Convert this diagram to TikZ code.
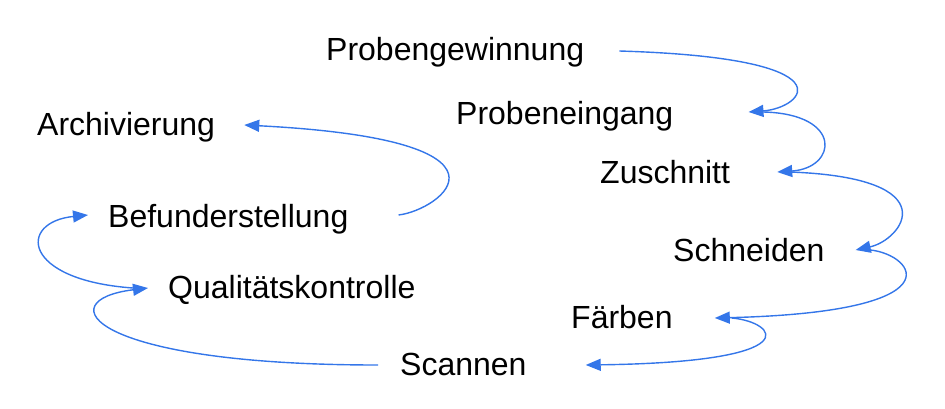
\documentclass[tikz,border=0pt]{standalone}
\usepackage{fontspec}
\setmainfont{Liberation Sans}
\usetikzlibrary{arrows.meta}
\definecolor{arrowblue}{RGB}{52,118,233}
\tikzset{
  lbl/.style={inner sep=0pt, font=\fontsize{32}{38}\selectfont},
  flow/.style={draw=arrowblue, line width=1.4pt, -{Triangle[length=15pt,width=12pt]}}
}
\begin{document}
\begin{tikzpicture}[x=1pt,y=-1pt]
\useasboundingbox (0,0) rectangle (945,408);
\node[lbl, anchor=base west] (pg) at (326,60) {Probengewinnung};
\node[lbl, anchor=base west] (pe) at (456,124) {Probeneingang};
\node[lbl, anchor=base west] (zu) at (600,183) {Zuschnitt};
\node[lbl, anchor=base west] (sd) at (673,261) {Schneiden};
\node[lbl, anchor=base west] (fa) at (571,328) {Färben};
\node[lbl, anchor=base west] (sc) at (400,375) {Scannen};
\node[lbl, anchor=base west] (qk) at (168,298) {Qualitätskontrolle};
\node[lbl, anchor=base west] (bf) at (108,227) {Befunderstellung};
\node[lbl, anchor=base west] (ar) at (37,135) {Archivierung};

\draw[flow] ([shift={(35,-9)}]pg.base east) .. controls +(235,7) and +(55,-4) .. ([shift={(75,-12)}]pe.base east);
\draw[flow] ([shift={(90,-12)}]pe.base east) .. controls +(80,2) and +(60,-4) .. ([shift={(47,-11)}]zu.base east);
\draw[flow] ([shift={(60,-11)}]zu.base east) .. controls +(160,6) and +(46,-10) .. ([shift={(31,-11)}]sd.base east);
\draw[flow] ([shift={(46,-11)}]sd.base east) .. controls +(44,5) and +(245,-6) .. ([shift={(42,-10)}]fa.base east);
\draw[flow] ([shift={(59,-10)}]fa.base east) .. controls +(45,4) and +(226,-3) .. ([shift={(59,-10)}]sc.base east);
\draw[flow] ([shift={(-22,-10)}]sc.base west) .. controls +(-290,0) and +(-100,12) .. ([shift={(-20,-10)}]qk.base west);
\draw[flow] ([shift={(-35,-10)}]qk.base west) .. controls +(-112,-8) and +(-70,7) .. ([shift={(-20,-12)}]bf.base west);
\draw[flow] ([shift={(50,-12)}]bf.base east) .. controls +(42,-5) and +(292,15) .. ([shift={(29,-10)}]ar.base east);
\end{tikzpicture}
\end{document}
